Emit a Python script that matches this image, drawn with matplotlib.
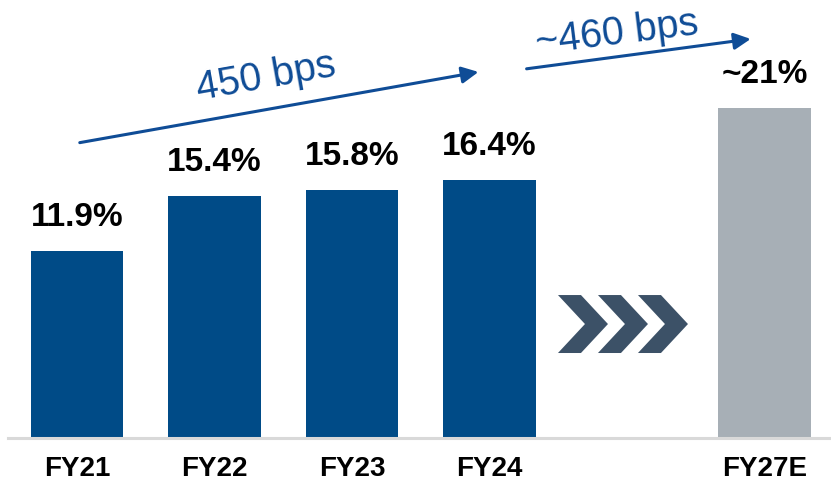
import matplotlib.pyplot as plt
from matplotlib.patches import Polygon

plt.rcParams['font.family'] = ['Liberation Sans', 'DejaVu Sans']

# data
categories = ['FY21', 'FY22', 'FY23', 'FY24', 'FY27E']
positions = [0, 1, 2, 3, 5]
margins = [11.9, 15.4, 15.8, 16.4, 21.0]
value_labels = ['11.9%', '15.4%', '15.8%', '16.4%', '~21%']
bar_colors = ['#004b87', '#004b87', '#004b87', '#004b87', '#a7afb6']

# growth arrows: (label, start x, start y, end x, end y)
arrows = [
    ('450 bps', 0.02, 18.8, 2.92, 23.3),
    ('~460 bps', 3.27, 23.5, 4.90, 25.4),
]

blue = '#0f4c96'

fig = plt.figure(figsize=(8.31, 4.87), dpi=100)
ax = fig.add_axes([8/831, 49/487, 823/831, 438/487])
ax.set_xlim(-0.502, 5.484)
ax.set_ylim(0, 27.88)

ax.bar(positions, margins, width=0.67, color=bar_colors, zorder=2)

for x, v, lab in zip(positions, margins, value_labels):
    ax.text(x, v + 1.15, lab, ha='center', va='bottom', fontsize=24,
            fontweight='bold', color='black')

ax.set_xticks(positions)
ax.set_xticklabels(categories, fontsize=20, fontweight='bold')
ax.tick_params(axis='x', length=0, pad=13)
ax.set_yticks([])
for s in ['top', 'right', 'left']:
    ax.spines[s].set_visible(False)
ax.spines['bottom'].set_color('#d9d9d9')
ax.spines['bottom'].set_linewidth(2.2)

# arrows with labels
text_spots = [(1.375, 23.0, 10.0), (3.93, 25.8, 7.0)]
for (lab, x0, y0, x1, y1), (tx, ty, rot) in zip(arrows, text_spots):
    ax.annotate('', xy=(x1, y1), xytext=(x0, y0),
                arrowprops=dict(arrowstyle='-|>,head_length=1.0,head_width=0.5',
                                color=blue, lw=2.2, shrinkA=0, shrinkB=0))
    ax.text(tx, ty, lab, ha='center', va='center', rotation=rot,
            fontsize=28.5, color=blue)

# chevrons in the gap
cx0 = (558 - 77) / 137.5
y_lo, y_hi = 5.41, 9.10
y_mid = (y_lo + y_hi) / 2
thick = 23 / 137.5
depth = 27 / 137.5
step = 40 / 137.5
for i in range(3):
    x0 = cx0 + i * step
    pts = [(x0, y_hi), (x0 + thick, y_hi), (x0 + thick + depth, y_mid),
           (x0 + thick, y_lo), (x0, y_lo), (x0 + depth, y_mid)]
    ax.add_patch(Polygon(pts, closed=True, color='#3c5167', lw=0, zorder=2))

plt.savefig('out.png', dpi=100)
